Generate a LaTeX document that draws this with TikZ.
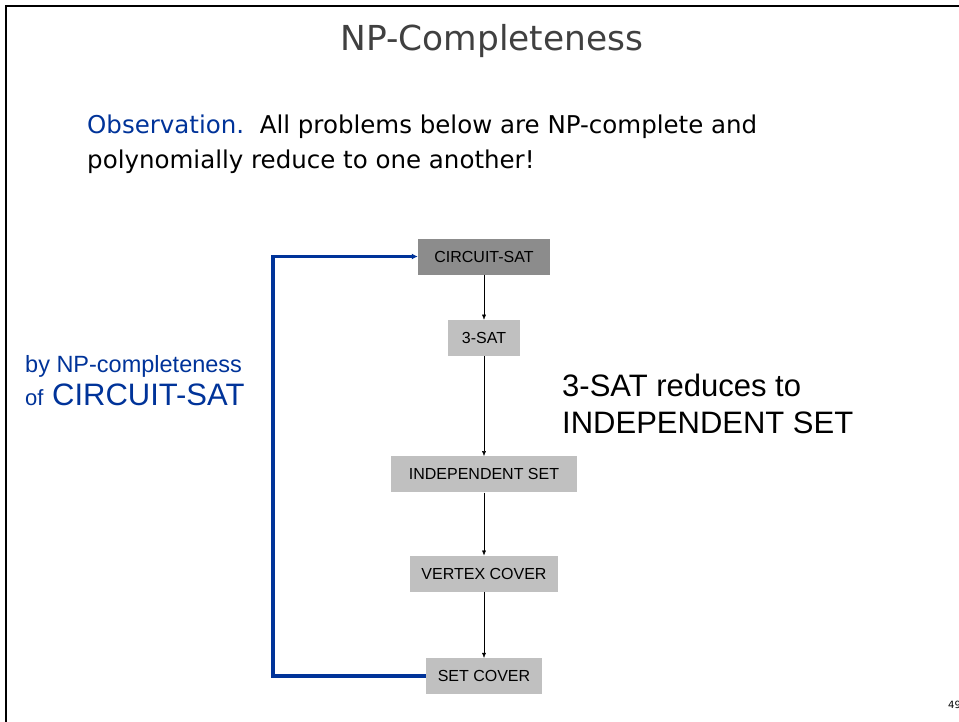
\documentclass[tikz,border=0pt]{standalone}
\usepackage{fontspec}
\setmainfont{Liberation Sans}
\newfontfamily\comicfont{DejaVu Sans}
\usetikzlibrary{positioning,arrows.meta}
\definecolor{slideblue}{RGB}{0,51,153}
\definecolor{titlegray}{RGB}{64,64,64}
\definecolor{boxgray}{RGB}{192,192,192}
\definecolor{darkboxgray}{RGB}{140,140,140}

\begin{document}
\begin{tikzpicture}[x=1pt,y=-1pt,
            problem/.style={fill=boxgray,minimum height=36pt,inner xsep=2pt,
                font=\fontsize{16}{18}\selectfont},
            reduce/.style={-{Latex[length=5pt,width=4pt]},thin,black},
            feedback/.style={-{Latex[length=6pt,width=6pt]},line width=3.5pt,slideblue},
            slidetext/.style={anchor=base west,inner sep=0pt}]

        \useasboundingbox (0,0) rectangle (959,721);
        \draw[line width=2pt] (6,6) rectangle (1000,760);

        % Title and observation
        \node[slidetext,anchor=base,text=titlegray,
            font=\comicfont\fontsize{34.4}{40}\selectfont] (title) at (492,50) {NP-Completeness};
        \node[slidetext,font=\comicfont\fontsize{24.5}{28}\selectfont] (obs1) at (87,133)
            {\textcolor{slideblue}{Observation.}\ \ All problems below are NP-complete and};
        \node[slidetext,font=\comicfont\fontsize{24.5}{28}\selectfont] (obs2) at (87,168)
            {polynomially reduce to one another!};

        % Define problems
        \node[problem,fill=darkboxgray,minimum width=132pt] (cs) at (484,256.5) {CIRCUIT-SAT};
        \node[problem,minimum width=72pt] (sat) [below=45pt of cs] {3-SAT};
        \node[problem,minimum width=186pt] (is) [below=100pt of sat] {INDEPENDENT SET};
        \node[problem,minimum width=148pt] (vc) [below=63pt of is] {VERTEX COVER};
        \node[problem,minimum width=116pt] (sc) [below=66pt of vc] {SET COVER};
        \coordinate (loop) at (273,0);

        % Draw reductions
        \path[reduce]
            (cs) edge (sat)
            (sat) edge (is)
            (is) edge (vc)
            (vc) edge (sc);
        \draw[feedback] (sc.west) -- (sc.west -| loop) |- (cs.west);

        % Labels
        \node[slidetext,text=slideblue,font=\fontsize{23.5}{28}\selectfont] (by) at (25,372)
            {by NP-completeness};
        \node[slidetext,text=slideblue,font=\fontsize{31}{37}\selectfont] (of) at (25,405)
            {{\fontsize{22}{26}\selectfont of} CIRCUIT-SAT};
        \node[slidetext,font=\fontsize{31}{37}\selectfont] (claim1) at (562,396)
            {3-SAT reduces to};
        \node[slidetext,font=\fontsize{31}{37}\selectfont] (claim2) at (562,433)
            {INDEPENDENT SET};
        \node[slidetext,font=\comicfont\fontsize{10}{12}\selectfont] (page) at (948,708) {49};
\end{tikzpicture}
\end{document}
